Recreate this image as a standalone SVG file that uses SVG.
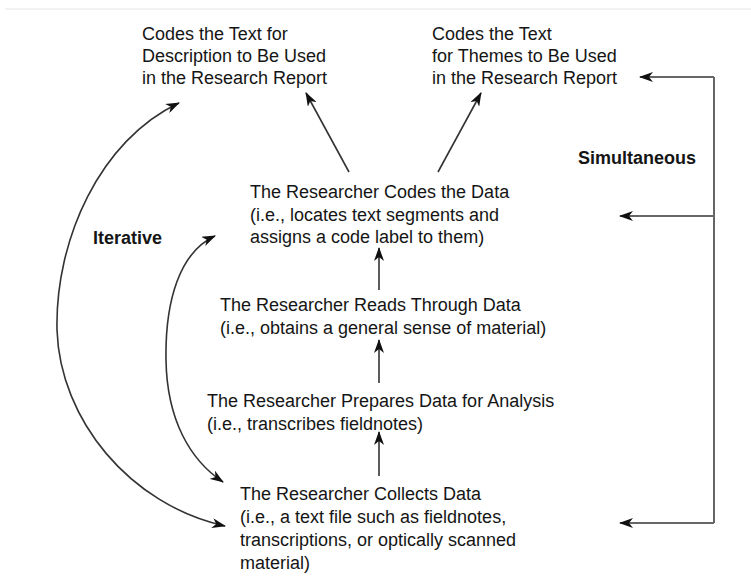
<svg xmlns="http://www.w3.org/2000/svg" width="751" height="582" viewBox="0 0 751 582">
<style>
.t{font-family:"Liberation Sans",Arial,sans-serif;font-size:18px;fill:#151515}
.b{font-weight:bold}
.ln{fill:none;stroke:#333;stroke-width:1.6}
.br{fill:none;stroke:#666;stroke-width:2}
</style>
<defs>
<marker id="ah" viewBox="0 0 14 10" markerWidth="14" markerHeight="10" refX="13" refY="5" orient="auto-start-reverse" markerUnits="userSpaceOnUse">
<path d="M0,0 L14,5 L0,10 L4,5 Z" fill="#111"/>
</marker>
</defs>
<rect width="751" height="582" fill="#fff"/>
<line x1="5" y1="9" x2="751" y2="9" stroke="#e6e6e6" stroke-width="1"/>
<g id="desc"><text class="t" x="142" y="40">Codes the Text for</text><text class="t" x="142" y="62">Description to Be Used</text><text class="t" x="142" y="84">in the Research Report</text></g>
<g id="themes"><text class="t" x="432" y="40">Codes the Text</text><text class="t" x="432" y="62">for Themes to Be Used</text><text class="t" x="432" y="84">in the Research Report</text></g>
<g id="codes"><text class="t" x="250" y="198">The Researcher Codes the Data</text><text class="t" x="250" y="221">(i.e., locates text segments and</text><text class="t" x="250" y="243">assigns a code label to them)</text></g>
<g id="reads"><text class="t" x="220" y="311">The Researcher Reads Through Data</text><text class="t" x="220" y="334">(i.e., obtains a general sense of material)</text></g>
<g id="prepares"><text class="t" x="207" y="407">The Researcher Prepares Data for Analysis</text><text class="t" x="207" y="430">(i.e., transcribes fieldnotes)</text></g>
<g id="collects"><text class="t" x="240" y="500">The Researcher Collects Data</text><text class="t" x="240" y="523">(i.e., a text file such as fieldnotes,</text><text class="t" x="240" y="546">transcriptions, or optically scanned</text><text class="t" x="240" y="569">material)</text></g>
<g id="iterative"><text class="t b" x="93" y="244">Iterative</text></g>
<g id="simultaneous"><text class="t b" x="578" y="164">Simultaneous</text></g>
<g id="connectors">
<line class="ln" x1="349" y1="172" x2="306" y2="93" marker-end="url(#ah)"/>
<line class="ln" x1="438" y1="172" x2="481" y2="93" marker-end="url(#ah)"/>
<line class="ln" x1="379" y1="290" x2="379" y2="248" marker-end="url(#ah)"/>
<line class="ln" x1="379" y1="383" x2="379" y2="340" marker-end="url(#ah)"/>
<line class="ln" x1="379" y1="476" x2="379" y2="432" marker-end="url(#ah)"/>
<path class="ln" d="M179 103 C100 140 55 240 57 330 C60 420 130 505 225 526" marker-start="url(#ah)" marker-end="url(#ah)"/>
<path class="ln" d="M215 236 C180 252 165 300 166 360 C167 420 190 460 223 482" marker-start="url(#ah)" marker-end="url(#ah)"/>
<polyline class="br" points="714,77 714,523"/>
<line class="br" x1="714" y1="77" x2="640" y2="77" marker-end="url(#ah)"/>
<line class="br" x1="714" y1="216" x2="620" y2="216" marker-end="url(#ah)"/>
<line class="br" x1="714" y1="523" x2="620" y2="523" marker-end="url(#ah)"/>
</g>
</svg>
